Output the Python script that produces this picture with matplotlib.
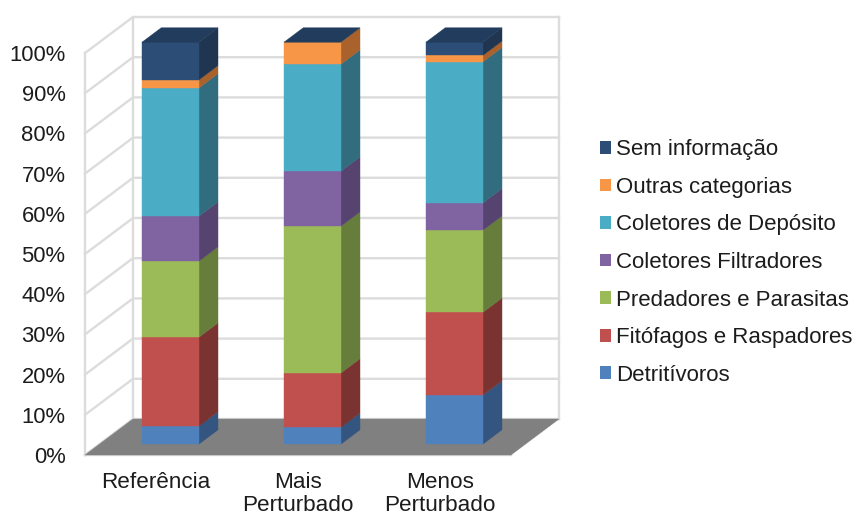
"""stacked 3d-look percentage columns of trophic groups per site class"""
import matplotlib
matplotlib.use('Agg')
import matplotlib.pyplot as plt
from matplotlib.patches import Patch

plt.rcParams['font.family'] = ['Liberation Sans', 'DejaVu Sans']

categories = ['Referência', 'Mais\nPerturbado', 'Menos\nPerturbado']
percentTicks = list(range(0, 101, 10))

# bottom to top in the stack
seriesNames = ['Detritívoros', 'Fitófagos e Raspadores', 'Predadores e Parasitas', 'Coletores Filtradores',
               'Coletores de Depósito', 'Outras categorias', 'Sem informação']
detritivoros = [4.5, 4.2, 12.2]
fitofagos    = [22.1, 13.5, 20.6]
predadores   = [18.9, 36.5, 20.4]
filtradores  = [11.2, 13.7, 6.8]
deposito     = [31.9, 26.6, 35.1]
outras       = [2.0, 5.5, 1.6]
semInfo      = [9.4, 0.0, 3.3]
seriesValues = [detritivoros, fitofagos, predadores, filtradores, deposito, outras, semInfo]

colorsFront = ['#4F81BD', '#C0504D', '#9BBB59', '#8064A2', '#4BACC6', '#F79646', '#2C4D75']
colorsSide  = ['#33557F', '#7B3331', '#677D3B', '#56436F', '#316D7E', '#A9622C', '#1F3550']
colorTop    = '#213C5C'
colorGrid   = '#DCDCDC'
colorFloor  = '#808080'
colorText   = '#1C1C1C'

# oblique projection: depth 0 is the front edge of the floor, 1 is the back wall
depthX = 48/142   # category units per unit of depth
depthY = 36/4.02  # percent per unit of depth
barFront, barBack = 0.3, 0.7
barWidth = 0.4

def project(x, y, depth):
  return x+depth*depthX, y+depth*depthY

def face(ax, corners, color, zorder):
  pts = [project(*c) for c in corners]
  ax.fill([p[0] for p in pts], [p[1] for p in pts], facecolor=color, edgecolor=color, linewidth=0.3,
          clip_on=False, zorder=zorder)

fig = plt.figure(figsize=(8.55, 5.16), dpi=100)
ax = fig.add_axes([85/855, 61/516, 426/855, 402/516])
xMin, xMax = -0.5, 2.5
ax.set_xlim(xMin, xMax)
ax.set_ylim(0, 100)

# floor and walls
face(ax, [(xMin, 0, 0), (xMax, 0, 0), (xMax, 0, 1), (xMin, 0, 1)], colorFloor, 2)
lineStyle = {'color':colorGrid, 'linewidth':1.7, 'clip_on':False, 'zorder':1, 'solid_capstyle':'projecting'}
for tick in percentTicks:
  xs, ys = zip(project(xMin, tick, 0), project(xMin, tick, 1), project(xMax, tick, 1))
  ax.plot(xs, ys, **lineStyle)
for x, depth in [(xMin, 0), (xMin, 1), (xMax, 1)]:
  xs, ys = zip(project(x, 0, depth), project(x, 100, depth))
  ax.plot(xs, ys, **lineStyle)
xs, ys = zip(project(xMin, 0, 0), project(xMax, 0, 0))
ax.plot(xs, ys, **lineStyle)

# columns
for i in range(len(categories)):
  left, right = i-barWidth/2, i+barWidth/2
  bottom = 0
  for j, values in enumerate(seriesValues):
    top = bottom+values[i]
    if values[i] > 0:
      face(ax, [(right, bottom, barFront), (right, bottom, barBack), (right, top, barBack), (right, top, barFront)],
           colorsSide[j], 3)
      face(ax, [(left, bottom, barFront), (right, bottom, barFront), (right, top, barFront), (left, top, barFront)],
           colorsFront[j], 4)
    bottom = top
  face(ax, [(left, bottom, barFront), (right, bottom, barFront), (right, bottom, barBack), (left, bottom, barBack)],
       colorTop, 4)

# axes text
for spine in ax.spines.values():
  spine.set_visible(False)
ax.patch.set_visible(False)
ax.set_yticks(percentTicks)
ax.set_yticklabels([str(t)+'%' for t in percentTicks], fontsize=15.8, color=colorText)
ax.set_xticks(range(len(categories)))
ax.set_xticklabels(categories, fontsize=16.2, color=colorText, linespacing=1.13)
ax.tick_params(axis='y', length=0, pad=14)
ax.tick_params(axis='x', length=0, pad=12)

handles = [Patch(facecolor=c, edgecolor='none') for c in colorsFront]
fig.legend(handles[::-1], seriesNames[::-1], loc='center left', bbox_to_anchor=(600/855, 1-262.5/516), frameon=False,
           fontsize=16, labelcolor=colorText, handlelength=0.5, handleheight=0.5, handletextpad=0.23,
           labelspacing=0.745, borderpad=0, borderaxespad=0)

plt.savefig('out.png', dpi=100)
